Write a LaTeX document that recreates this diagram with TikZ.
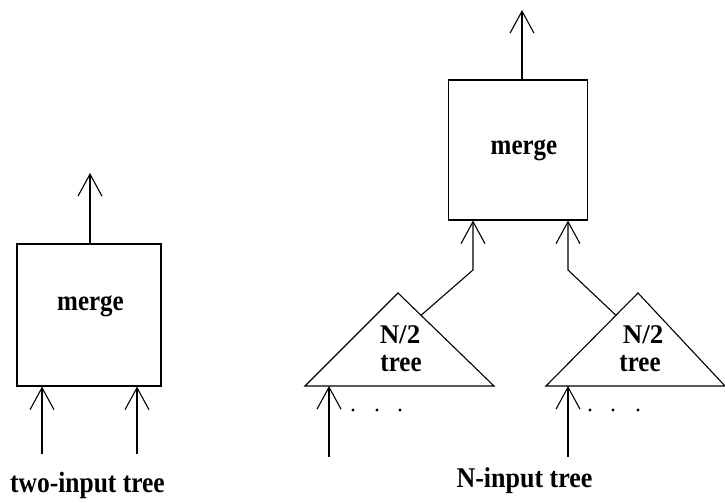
\documentclass[tikz,border=0pt]{standalone}
\usepackage{fontspec}
\setmainfont{Liberation Serif}
\usetikzlibrary{arrows.meta,calc}
\newcommand\vstretch[2]{\scalebox{1}[#1]{#2}}
\begin{document}
\begin{tikzpicture}[x=1pt,y=-1pt,
  every path/.style={line width=1.1pt},
  arr/.style={-{Straight Barb[length=22pt,width=24pt,line width=1.1pt]}},
  box/.style={draw,rectangle,inner sep=0pt},
  lbl/.style={font=\bfseries\fontsize{25}{26}\selectfont,inner sep=0pt,anchor=base},
  nlbl/.style={font=\bfseries\fontsize{27}{27}\selectfont,inner sep=0pt,anchor=base}]
\useasboundingbox (0,0) rectangle (725,502);
% left: two-input tree
\node[box,minimum width=144pt,minimum height=142pt] (lm) at (89,315) {};
\node[lbl] (lmt) at (90.5,311) {\vstretch{1.15}{merge}};
\coordinate (lo) at (90,173);
\coordinate (li1) at (42,454);
\coordinate (li2) at (137,454);
\draw[arr] (lm.north -| lo) -- (lo);
\draw[arr] (li1) -- (lm.south -| li1);
\draw[arr] (li2) -- (lm.south -| li2);
\node[lbl,font=\bfseries\fontsize{25.5}{26}\selectfont] (lt) at (87.5,492) {\vstretch{1.15}{two-input tree}};
% right: N-input tree
\node[box,minimum width=139pt,minimum height=140pt] (rm) at (518,150) {};
\node[lbl] (rmt) at (524,155) {\vstretch{1.15}{merge}};
\coordinate (ro) at (522,10);
\draw[arr] (rm.north -| ro) -- (ro);
% triangles
\coordinate (ta) at (398,293);
\coordinate (tl) at (305,386);
\coordinate (tr) at (494,386);
\coordinate (ua) at (638,293);
\coordinate (ul) at (546,386);
\coordinate (ur) at (725,386);
\draw (tl) -- (ta) -- (tr) -- cycle;
\draw (ul) -- (ua) -- (ur) -- cycle;
\node[nlbl] (t1) at (400,343) {N/2};
\node[lbl] (t1b) at (401,371) {\vstretch{1.15}{tree}};
\node[nlbl] (t2) at (643,343) {N/2};
\node[lbl] (t2b) at (640,371) {\vstretch{1.15}{tree}};
% connections triangles to merge
\coordinate (c1) at ($(ta)!0.24!(tr)$);
\coordinate (c2) at ($(ua)!0.24!(ul)$);
\coordinate (k1) at (473,270);
\coordinate (k2) at (568,270);
\draw[arr] (c1) -- (k1) -- (rm.south -| k1);
\draw[arr] (c2) -- (k2) -- (rm.south -| k2);
% inputs to triangles
\coordinate (b1) at (329,457);
\coordinate (b2) at (568,457);
\draw[arr] (b1) -- (b1 |- tl);
\draw[arr] (b2) -- (b2 |- ul);
\foreach \x in {353,377,400,590,613,638} \fill (\x,410) circle (1.7pt);
\node[lbl,font=\bfseries\fontsize{26}{26}\selectfont] (nt) at (524.5,487) {\vstretch{1.1}{N-input tree}};
\end{tikzpicture}
\end{document}
